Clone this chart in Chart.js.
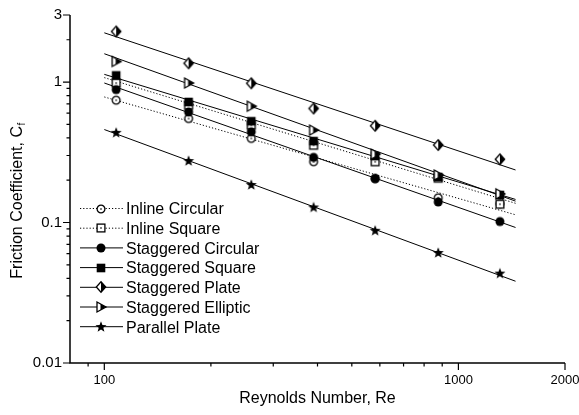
<!DOCTYPE html>
<html>
<head>
<meta charset="utf-8">
<script src="https://cdn.jsdelivr.net/npm/chart.js@4.4.1/dist/chart.umd.min.js"></script>
<style>
  html, body { margin: 0; padding: 0; background: #fff; }
  canvas { display: block; }
</style>
</head>
<body>
<canvas id="cf" width="579" height="415"></canvas>
<script>
// ====== Data ======
const RE = [108, 173, 260, 390, 582, 877, 1310];

const INLINE_CIRCULAR    = [0.742, 0.55, 0.397, 0.271, 0.205, 0.150, 0.136];
const INLINE_SQUARE      = [0.984, 0.683, 0.493, 0.355, 0.271, 0.207, 0.135];
const STAGGERED_CIRCULAR = [0.883, 0.612, 0.442, 0.291, 0.206, 0.140, 0.1016];
const STAGGERED_SQUARE   = [1.115, 0.721, 0.526, 0.380, 0.297, 0.211, 0.157];
const STAGGERED_PLATE    = [2.29, 1.36, 0.98, 0.648, 0.488, 0.356, 0.282];
const STAGGERED_ELLIPTIC = [1.40, 0.984, 0.673, 0.455, 0.307, 0.218, 0.160];
const PARALLEL_PLATE     = [0.435, 0.274, 0.185, 0.128, 0.0873, 0.0607, 0.0433];

// power-law fit lines, value at each end of FIT_RE
const FIT_RE = [100, 1450];
const INLINE_CIRCULAR_FIT    = [0.783, 0.1135];
const INLINE_SQUARE_FIT      = [1.075, 0.137];
const STAGGERED_CIRCULAR_FIT = [0.984, 0.0922];
const STAGGERED_SQUARE_FIT   = [1.134, 0.146];
const STAGGERED_PLATE_FIT    = [2.24, 0.2366];
const STAGGERED_ELLIPTIC_FIT = [1.59, 0.142];
const PARALLEL_PLATE_FIT     = [0.459, 0.0382];

const SERIES_NAMES = ["Inline Circular", "Inline Square", "Staggered Circular", "Staggered Square",
                      "Staggered Plate", "Staggered Elliptic", "Parallel Plate"];

// axis ticks
const X_MAJOR = [100, 1000, 2000];
const X_LABELS = ["100", "1000", "2000"];
const X_MINOR = [90, 200, 300, 400, 500, 600, 700, 800, 900];
const Y_MAJOR = [0.01, 0.1, 1, 3];
const Y_LABELS = ["0.01", "0.1", "1", "3"];
const Y_MINOR = [0.02, 0.03, 0.04, 0.05, 0.06, 0.07, 0.08, 0.09,
                 0.2, 0.3, 0.4, 0.5, 0.6, 0.7, 0.8, 0.9, 2];

const FONT = "'Liberation Sans', Arial, sans-serif";

// ====== Marker glyphs ======
function makeMarker(kind) {
  const s = 14;
  const c = document.createElement("canvas");
  c.width = s; c.height = s;
  const g = c.getContext("2d");
  g.translate(s / 2, s / 2);
  g.lineWidth = 1.3;
  g.strokeStyle = "#000";
  g.fillStyle = "#000";
  if (kind === "openCircle") {
    g.beginPath(); g.arc(0, 0, 3.9, 0, Math.PI * 2);
    g.fillStyle = "#fff"; g.fill(); g.stroke();
    g.fillStyle = "#000"; g.fillRect(-0.7, -0.7, 1.4, 1.4);
  } else if (kind === "openSquare") {
    g.fillStyle = "#fff"; g.fillRect(-3.9, -3.9, 7.8, 7.8);
    g.strokeRect(-3.9, -3.9, 7.8, 7.8);
    g.fillStyle = "#000"; g.fillRect(-0.7, -0.7, 1.4, 1.4);
  } else if (kind === "circle") {
    g.beginPath(); g.arc(0, 0, 4.5, 0, Math.PI * 2); g.fill();
  } else if (kind === "square") {
    g.fillRect(-4.3, -4.3, 8.6, 8.6);
  } else if (kind === "diamond") {
    g.beginPath(); g.moveTo(0, -5.2); g.lineTo(4.7, 0); g.lineTo(0, 5.2); g.lineTo(-4.7, 0); g.closePath();
    g.fillStyle = "#fff"; g.fill();
    g.fillStyle = "#000";
    g.beginPath(); g.moveTo(0, -5.2); g.lineTo(4.7, 0); g.lineTo(0, 5.2); g.closePath(); g.fill();
    g.beginPath(); g.moveTo(0, -5.2); g.lineTo(4.7, 0); g.lineTo(0, 5.2); g.lineTo(-4.7, 0); g.closePath(); g.stroke();
  } else if (kind === "triangle") {
    g.beginPath(); g.moveTo(-4, -5); g.lineTo(5, 0); g.lineTo(-4, 5); g.closePath();
    g.fillStyle = "#fff"; g.fill();
    g.fillStyle = "#000";
    g.beginPath(); g.moveTo(-0.5, -3.05); g.lineTo(5, 0); g.lineTo(-0.5, 3.05); g.closePath(); g.fill();
    g.beginPath(); g.moveTo(-4, -5); g.lineTo(5, 0); g.lineTo(-4, 5); g.closePath(); g.stroke();
  } else if (kind === "star") {
    g.beginPath();
    for (let i = 0; i < 10; i++) {
      const r = i % 2 === 0 ? 5.8 : 2.4;
      const t = -Math.PI / 2 + i * Math.PI / 5;
      if (i === 0) g.moveTo(r * Math.cos(t), r * Math.sin(t));
      else g.lineTo(r * Math.cos(t), r * Math.sin(t));
    }
    g.closePath(); g.fill();
  }
  return c;
}

const MARKERS = ["openCircle", "openSquare", "circle", "square", "diamond", "triangle", "star"].map(makeMarker);
const DOTTED = [true, true, false, false, false, false, false];

const POINTS = [INLINE_CIRCULAR, INLINE_SQUARE, STAGGERED_CIRCULAR, STAGGERED_SQUARE,
                STAGGERED_PLATE, STAGGERED_ELLIPTIC, PARALLEL_PLATE];
const FITS = [INLINE_CIRCULAR_FIT, INLINE_SQUARE_FIT, STAGGERED_CIRCULAR_FIT, STAGGERED_SQUARE_FIT,
              STAGGERED_PLATE_FIT, STAGGERED_ELLIPTIC_FIT, PARALLEL_PLATE_FIT];

function pairs(xs, ys) {
  return xs.map((x, i) => ({ x: x, y: ys[i] }));
}

// ====== Datasets ======
const datasets = [];
FITS.forEach((f, i) => {
  datasets.push({
    label: SERIES_NAMES[i] + " fit",
    data: pairs(FIT_RE, f),
    showLine: true,
    borderColor: "#000",
    borderWidth: 1,
    borderDash: DOTTED[i] ? [1.2, 2] : [],
    pointRadius: 0,
    order: 200
  });
});
POINTS.forEach((p, i) => {
  datasets.push({
    label: SERIES_NAMES[i],
    data: pairs(RE, p),
    showLine: false,
    pointStyle: MARKERS[i],
    pointRadius: 5,
    order: 100 - i
  });
});

// ====== Axes, ticks, titles and legend ======
const decor = {
  id: "decor",
  afterDraw(chart) {
    const { ctx, chartArea: a } = chart;
    const xs = chart.scales.x, ys = chart.scales.y;
    ctx.save();
    ctx.strokeStyle = "#000";
    ctx.fillStyle = "#000";

    ctx.lineWidth = 1.5;
    ctx.beginPath();
    ctx.moveTo(a.left, a.top);
    ctx.lineTo(a.left, a.bottom);
    ctx.lineTo(a.right, a.bottom);
    ctx.stroke();

    ctx.lineWidth = 1.2;
    ctx.beginPath();
    Y_MAJOR.forEach(v => { const py = ys.getPixelForValue(v); ctx.moveTo(a.left - 7, py); ctx.lineTo(a.left, py); });
    Y_MINOR.forEach(v => { const py = ys.getPixelForValue(v); ctx.moveTo(a.left - 3.5, py); ctx.lineTo(a.left, py); });
    X_MAJOR.forEach(v => { const px = xs.getPixelForValue(v); ctx.moveTo(px, a.bottom); ctx.lineTo(px, a.bottom + 7); });
    X_MINOR.forEach(v => { const px = xs.getPixelForValue(v); ctx.moveTo(px, a.bottom); ctx.lineTo(px, a.bottom + 3.5); });
    ctx.stroke();

    ctx.font = "15px " + FONT;
    ctx.textAlign = "right";
    ctx.textBaseline = "middle";
    Y_MAJOR.forEach((v, i) => ctx.fillText(Y_LABELS[i], a.left - 8, ys.getPixelForValue(v)));

    ctx.font = "13px " + FONT;
    ctx.textAlign = "center";
    ctx.textBaseline = "top";
    X_MAJOR.forEach((v, i) => ctx.fillText(X_LABELS[i], xs.getPixelForValue(v), a.bottom + 11));

    ctx.font = "16px " + FONT;
    ctx.textBaseline = "alphabetic";
    ctx.fillText("Reynolds Number, Re", (a.left + a.right) / 2, 403);

    // rotated y title with subscript f
    ctx.save();
    ctx.translate(22, 201);
    ctx.rotate(-Math.PI / 2);
    const main = "Friction Coefficient, C";
    ctx.font = "16px " + FONT;
    const w1 = ctx.measureText(main).width;
    ctx.font = "10px " + FONT;
    const w2 = ctx.measureText("f").width;
    const start = -(w1 + w2) / 2;
    ctx.textAlign = "left";
    ctx.font = "16px " + FONT;
    ctx.fillText(main, start, 0);
    ctx.font = "10px " + FONT;
    ctx.fillText("f", start + w1 + 0.5, 3);
    ctx.restore();

    // legend
    const rowY0 = 208.5, rowStep = 19.7;
    SERIES_NAMES.forEach((name, i) => {
      const ry = rowY0 + i * rowStep;
      ctx.lineWidth = 1;
      ctx.setLineDash(DOTTED[i] ? [1.2, 2] : []);
      ctx.beginPath();
      ctx.moveTo(80, ry);
      ctx.lineTo(123, ry);
      ctx.stroke();
      ctx.setLineDash([]);
      const m = MARKERS[i];
      ctx.drawImage(m, 101 - m.width / 2, Math.round(ry) - m.height / 2);
      ctx.font = "16px " + FONT;
      ctx.textAlign = "left";
      ctx.textBaseline = "alphabetic";
      ctx.fillText(name, 126, ry + 5.8);
    });
    ctx.restore();
  }
};

new Chart(document.getElementById("cf").getContext("2d"), {
  type: "scatter",
  data: { datasets: datasets },
  options: {
    responsive: false,
    animation: false,
    devicePixelRatio: 1,
    layout: { padding: { left: 0, top: 15, right: 14, bottom: 0 } },
    plugins: { legend: { display: false }, tooltip: { enabled: false } },
    scales: {
      x: {
        type: "logarithmic",
        min: 80,
        max: 2000,
        grid: { display: false },
        border: { display: false },
        ticks: { display: false },
        afterFit: s => { s.height = 52; }
      },
      y: {
        type: "logarithmic",
        min: 0.01,
        max: 3,
        grid: { display: false },
        border: { display: false },
        ticks: { display: false },
        afterFit: s => { s.width = 70; }
      }
    }
  },
  plugins: [decor]
});
</script>
</body>
</html>
